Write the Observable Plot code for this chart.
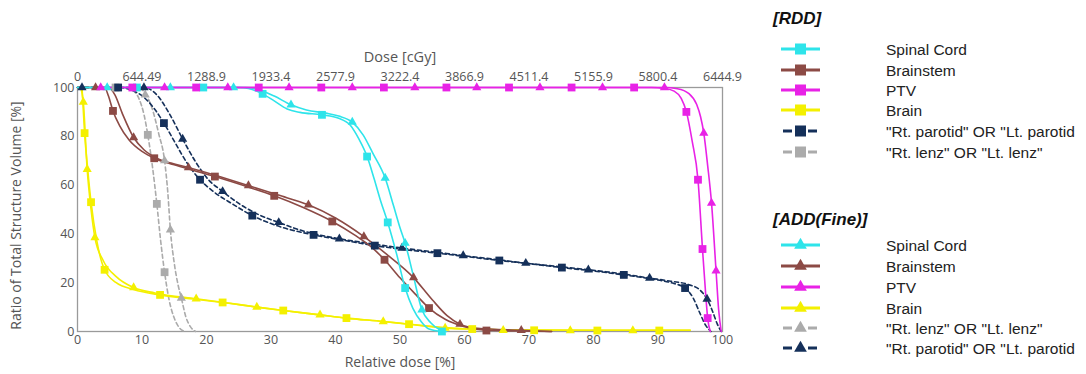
<!DOCTYPE html>
<html><head><meta charset="utf-8">
<script src="https://cdn.jsdelivr.net/npm/d3@7"></script>
<script src="https://cdn.jsdelivr.net/npm/@observablehq/plot@0.6"></script>
<style>
body{margin:0;background:#fff;}
#wrap{position:relative;width:1086px;height:374px;overflow:hidden;}
#chart{position:absolute;left:0;top:0;}
#legend{position:absolute;left:0;top:0;pointer-events:none;}
</style></head><body>
<div id="wrap"><div id="chart"></div><svg id="legend" width="1086" height="374"></svg></div>
<script>
// ---------- data ----------
const xTicks = [0,10,20,30,40,50,60,70,80,90,100];
const doseLabels = ["0","644.49","1288.9","1933.4","2577.9","3222.4","3866.9","4511.4","5155.9","5800.4","6444.9"];
const yTicks = [0,20,40,60,80,100];

const spinalRDD = [[0,100],[25,100],[26.5,99.6],[28.7,97.4],[30.5,94.5],[32.5,91.2],[34.5,89.8],[37.9,88.8],[40.5,87.4],[42.3,84.5],[43.6,79],[44.9,71.7],[46,62.5],[47,53.5],[48.1,44.7],[49.5,31.5],[50.8,17.8],[52,9.5],[53.3,4],[54.5,1],[56.5,0]];
const spinalRDDMarks = [[9.2,100],[19.5,100],[28.7,97.4],[37.9,88.8],[44.9,71.7],[48.1,44.7],[50.8,17.8],[56.5,0]];
const spinalADD = [[0,100],[26,100],[28,99.2],[30.5,96.5],[33.1,92.9],[35.5,90.8],[38.5,89.5],[40.5,88.3],[42.6,85.8],[44.3,80.5],[45.8,73],[47.7,62.9],[49,51.5],[50,42.5],[50.8,36.2],[52,23.6],[53.4,8.9],[54.8,3.5],[56,1],[57.2,0]];
const spinalADDMarks = [[4.6,100],[14.4,100],[24.2,100],[33.1,92.9],[42.6,85.8],[47.7,62.9],[50.8,36.2],[53.4,8.9]];

const brainstemRDD = [[0,100],[4.2,100],[4.8,96.5],[5.5,90.4],[6.5,84.5],[8,78.5],[10,73.8],[11.9,71],[15,68.3],[18,66],[21.3,63.5],[26,59.6],[30.5,55.6],[35,50.8],[39.5,45.1],[43,39.5],[45.5,34.8],[47.6,29.4],[50,22],[52.5,15],[54.5,9.6],[57,5],[60,2],[63.4,0.5],[68,0.2],[73.5,0]];
const brainstemRDDMarks = [[5.5,90.4],[11.9,71],[21.3,63.5],[30.5,55.6],[39.5,45.1],[47.6,29.4],[54.5,9.6],[63.4,0.4]];
const brainstemADD = [[0,100],[4.8,100],[5.8,97],[7,89],[8.7,79.5],[10.3,74.5],[12.3,71],[14.5,69],[17.2,67.2],[22,63.5],[26.5,59.8],[31,56],[35.8,51.9],[40,46.5],[44.4,38.9],[48,31.5],[52.1,22.1],[55,13],[57.3,6.5],[59.3,3],[62,1.3],[68.8,0.5],[73.5,0]];
const brainstemADDMarks = [[2.8,100],[8.7,79.5],[17.2,67.2],[26.5,59.8],[35.8,51.9],[44.4,38.9],[52.1,22.1],[59.3,3],[68.8,0.5]];

const ptvRDD = [[3,100],[89,100],[91,99.6],[92.5,98.5],[93.6,95.5],[94.4,90],[95.3,78],[96.2,62.2],[96.9,33.8],[97.4,15],[97.7,5.5],[98.1,0]];
const ptvRDDMarks = [[8.5,100],[18.4,100],[28.1,100],[37.8,100],[47.5,100],[57.2,100],[66.9,100],[76.6,100],[86.3,100],[94.4,90],[96.2,62.2],[96.9,33.8],[97.7,5.5]];
const ptvADD = [[3,100],[91,100],[93,99.5],[94.8,97.5],[96,93],[96.6,88],[97.1,81.3],[97.7,68],[98.3,52.6],[99,24.9],[99.4,9],[99.8,0]];
const ptvADDMarks = [[3.6,100],[13.5,100],[23.3,100],[32.8,100],[42.6,100],[52.3,100],[61.9,100],[71.7,100],[81.4,100],[91,100],[97.1,81.3],[98.3,52.6],[99,24.9]];

const brainRDD = [[0.7,100],[1.1,81.3],[1.6,66],[2.1,53],[3,37],[4.2,25.3],[6,20],[8.7,17.2],[12.8,15],[18,13.3],[22.5,11.9],[27.8,10],[31.9,8.6],[37.6,6.8],[41.7,5.5],[47.4,4.1],[51.4,3],[57,1.6],[61.2,1],[70,0.6],[80,0.5],[90,0.5],[95,0.5]];
const brainRDDMarks = [[1.1,81.3],[2.1,53],[4.2,25.3],[12.8,15],[22.5,11.9],[31.9,8.6],[41.7,5.5],[51.4,3],[61.2,1],[70.8,0.5],[80.6,0.4],[90.2,0.4]];
const brainADD = [[0.5,100],[0.9,94],[1.5,66.5],[2.1,50],[2.7,38.5],[4,29],[6,22.5],[8.7,18],[12,15.8],[18.4,13.4],[22.5,12],[27.8,10],[31.9,8.6],[37.6,6.8],[41.7,5.5],[47.4,4.1],[51.4,3],[57,1.4],[61.2,1],[70,0.6],[80,0.5],[90,0.5],[95,0.5]];
const brainADDMarks = [[0.9,94],[1.5,66.5],[2.7,38.5],[8.7,18],[18.4,13.4],[27.8,10],[37.6,6.8],[47.4,4.1],[57,1.4],[66,0.5],[76.4,0.4],[86.1,0.4]];

const parotidRDD = [[0,100],[6.3,100],[8.5,98.8],[10.5,95.5],[12,91],[13.4,85.4],[15,78],[17,69],[19,62.2],[21,57.5],[24,52.3],[27.1,47.5],[31,43.3],[36.6,39.6],[41,37.5],[46.1,35.2],[50,33.8],[55.8,32.1],[60,30.8],[65.4,29.1],[70,27.8],[75.1,26.2],[80,24.8],[84.7,23.2],[89,21.5],[92,20],[94.2,17.8],[95.5,13.5],[96.5,7.5],[97.4,2.5],[98.2,0]];
const parotidRDDMarks = [[6.3,100],[13.4,85.4],[19,62.2],[27.1,47.5],[36.6,39.6],[46.1,35.2],[55.8,32.1],[65.4,29.1],[75.1,26.2],[84.7,23.2],[94.2,17.8]];
const parotidADD = [[0,100],[10.3,100],[12.3,97],[14.3,89],[16.3,78.9],[18.2,70],[20.2,62.5],[22.5,57.4],[25,52.5],[28,48],[31.2,44.7],[35,41.2],[40.6,38],[45,36.2],[50.3,34.2],[55,32.7],[59.8,31.1],[65,29.5],[69.5,28],[75,26.5],[79.2,25.3],[84,23.8],[88.7,21.9],[92,20.6],[94.8,19.2],[96.5,17],[97.6,13.3],[98.5,8],[99.2,3],[99.8,0]];
const parotidADDMarks = [[0.7,100],[10.3,100],[16.3,78.9],[22.5,57.4],[31.2,44.7],[40.6,38],[50.3,34.2],[59.8,31.1],[69.5,28],[79.2,25.3],[88.7,21.9],[97.6,13.3]];

const lenzRDD = [[0,100],[7.5,100],[8.5,99],[9.6,95],[10.3,89],[10.9,80.6],[11.6,68],[12.3,52.3],[12.9,37],[13.5,24.3],[14.2,13],[15,5.5],[15.8,1.5],[16.7,0]];
const lenzRDDMarks = [[5.9,100],[10.9,80.6],[12.3,52.3],[13.5,24.3]];
const lenzADD = [[0,100],[9.5,100],[10.5,97.5],[11.5,92],[12.6,81],[13.5,70],[14,57],[14.4,41.7],[15,28],[15.6,19],[16.1,13.7],[16.8,6],[17.5,2],[18.3,0]];
const lenzADDMarks = [[10.5,97],[13.5,70],[14.4,41.7],[16.1,13.7]];

const colors = {spinal:"#2ee4ea", brainstem:"#8c4a45", ptv:"#e822e6", brain:"#f4f000", parotid:"#15305a", lenz:"#ababab"};

const rddLegend = [
  {label:"Spinal Cord", key:"spinal", dashed:false},
  {label:"Brainstem", key:"brainstem", dashed:false},
  {label:"PTV", key:"ptv", dashed:false},
  {label:"Brain", key:"brain", dashed:false},
  {label:"\"Rt. parotid\" OR \"Lt. parotid", key:"parotid", dashed:true},
  {label:"\"Rt. lenz\" OR \"Lt. lenz\"", key:"lenz", dashed:true}
];
const addLegend = [
  {label:"Spinal Cord", key:"spinal", dashed:false},
  {label:"Brainstem", key:"brainstem", dashed:false},
  {label:"PTV", key:"ptv", dashed:false},
  {label:"Brain", key:"brain", dashed:false},
  {label:"\"Rt. lenz\" OR \"Lt. lenz\"", key:"lenz", dashed:true},
  {label:"\"Rt. parotid\" OR \"Lt. parotid", key:"parotid", dashed:true}
];

// ---------- chart ----------
const series = [
  [lenzRDD, lenzRDDMarks, "lenz", true, "square"],
  [lenzADD, lenzADDMarks, "lenz", true, "triangle"],
  [parotidRDD, parotidRDDMarks, "parotid", true, "square"],
  [parotidADD, parotidADDMarks, "parotid", true, "triangle"],
  [brainRDD, brainRDDMarks, "brain", false, "square"],
  [brainADD, brainADDMarks, "brain", false, "triangle"],
  [brainstemRDD, brainstemRDDMarks, "brainstem", false, "square"],
  [brainstemADD, brainstemADDMarks, "brainstem", false, "triangle"],
  [spinalRDD, spinalRDDMarks, "spinal", false, "square"],
  [spinalADD, spinalADDMarks, "spinal", false, "triangle"],
  [ptvRDD, ptvRDDMarks, "ptv", false, "square"],
  [ptvADD, ptvADDMarks, "ptv", false, "triangle"]
];

const marks = [Plot.frame({stroke:"#9a9a9a", strokeWidth:1.3})];
for (const [curve, pts, key, dashed, sym] of series) {
  marks.push(Plot.line(curve, {x:d=>d[0], y:d=>d[1], stroke:colors[key], strokeWidth:1.6,
    strokeDasharray: dashed ? "4,3" : null, curve:"monotone-x"}));
}
for (const [curve, pts, key, dashed, sym] of series) {
  marks.push(Plot.dot(pts, {x:d=>d[0], y:d=>d[1], fill:colors[key], stroke:"none",
    symbol:sym, r: sym === "square" ? 4.4 : 3.4}));
}
marks.push(
  Plot.axisX({anchor:"bottom", ticks:xTicks, tickSize:0, tickPadding:4, label:null, fontSize:12.5, color:"#555"}),
  Plot.axisX({anchor:"top", ticks:xTicks, tickSize:0, tickPadding:7, label:null, fontSize:12.5, color:"#555",
    tickFormat:(d)=>doseLabels[xTicks.indexOf(d)]}),
  Plot.axisY({anchor:"left", ticks:yTicks, tickSize:0, tickPadding:3, label:null, fontSize:12.5, color:"#555"}),
  Plot.text(["Relative dose [%]"], {frameAnchor:"bottom", dy:31, lineAnchor:"middle", text:d=>d, fontSize:14, fill:"#555", textAnchor:"middle"}),
  Plot.text(["Dose [cGy]"], {frameAnchor:"top", dy:-30, lineAnchor:"middle", text:d=>d, fontSize:14.5, fill:"#555", textAnchor:"middle"}),
  Plot.text(["Ratio of Total Structure Volume [%]"], {frameAnchor:"left", dx:-61, dy:6, rotate:-90, lineAnchor:"middle", textAnchor:"middle", text:d=>d, fontSize:14, fill:"#555"})
);

const chart = Plot.plot({
  width:770, height:374,
  marginLeft:77, marginRight:48, marginTop:87, marginBottom:43,
  style:{fontFamily:"'Open Sans', sans-serif", background:"transparent"},
  x:{domain:[0,100]},
  y:{domain:[0,100]},
  marks
});
document.getElementById("chart").appendChild(chart);

// ---------- legend ----------
const lg = d3.select("#legend");
const tri = d3.symbol().type(d3.symbolTriangle).size(70);
function drawLegend(title, titleY, items, rowYs, symbol) {
  lg.append("text").attr("x", 773).attr("y", titleY).attr("dominant-baseline","central")
    .attr("font-family","'Liberation Sans', Arial, sans-serif").attr("font-size", 17)
    .attr("font-weight","bold").attr("font-style","italic").attr("fill","#111").text(title);
  items.forEach((it, i) => {
    const y = rowYs[i], c = colors[it.key];
    const g = lg.append("g");
    if (it.dashed) {
      g.append("line").attr("x1",783).attr("x2",792).attr("y1",y).attr("y2",y).attr("stroke",c).attr("stroke-width",3);
      g.append("line").attr("x1",808).attr("x2",817).attr("y1",y).attr("y2",y).attr("stroke",c).attr("stroke-width",3);
    } else {
      g.append("line").attr("x1",781).attr("x2",820).attr("y1",y).attr("y2",y).attr("stroke",c).attr("stroke-width",3);
    }
    if (symbol === "square") {
      g.append("rect").attr("x",795).attr("y",y-5.5).attr("width",11).attr("height",11).attr("fill",c);
    } else {
      g.append("path").attr("d",tri()).attr("transform",`translate(800.5,${y})`).attr("fill",c);
    }
    g.append("text").attr("x",886).attr("y",y).attr("dominant-baseline","central")
      .attr("font-family","'Liberation Sans', Arial, sans-serif").attr("font-size",15.5).attr("fill","#222").text(it.label);
  });
}
drawLegend("[RDD]", 18, rddLegend, [49,70,90,110,131,152], "square");
drawLegend("[ADD(Fine)]", 219, addLegend, [245,266,287,308,328,348], "triangle");
</script>
</body></html>
